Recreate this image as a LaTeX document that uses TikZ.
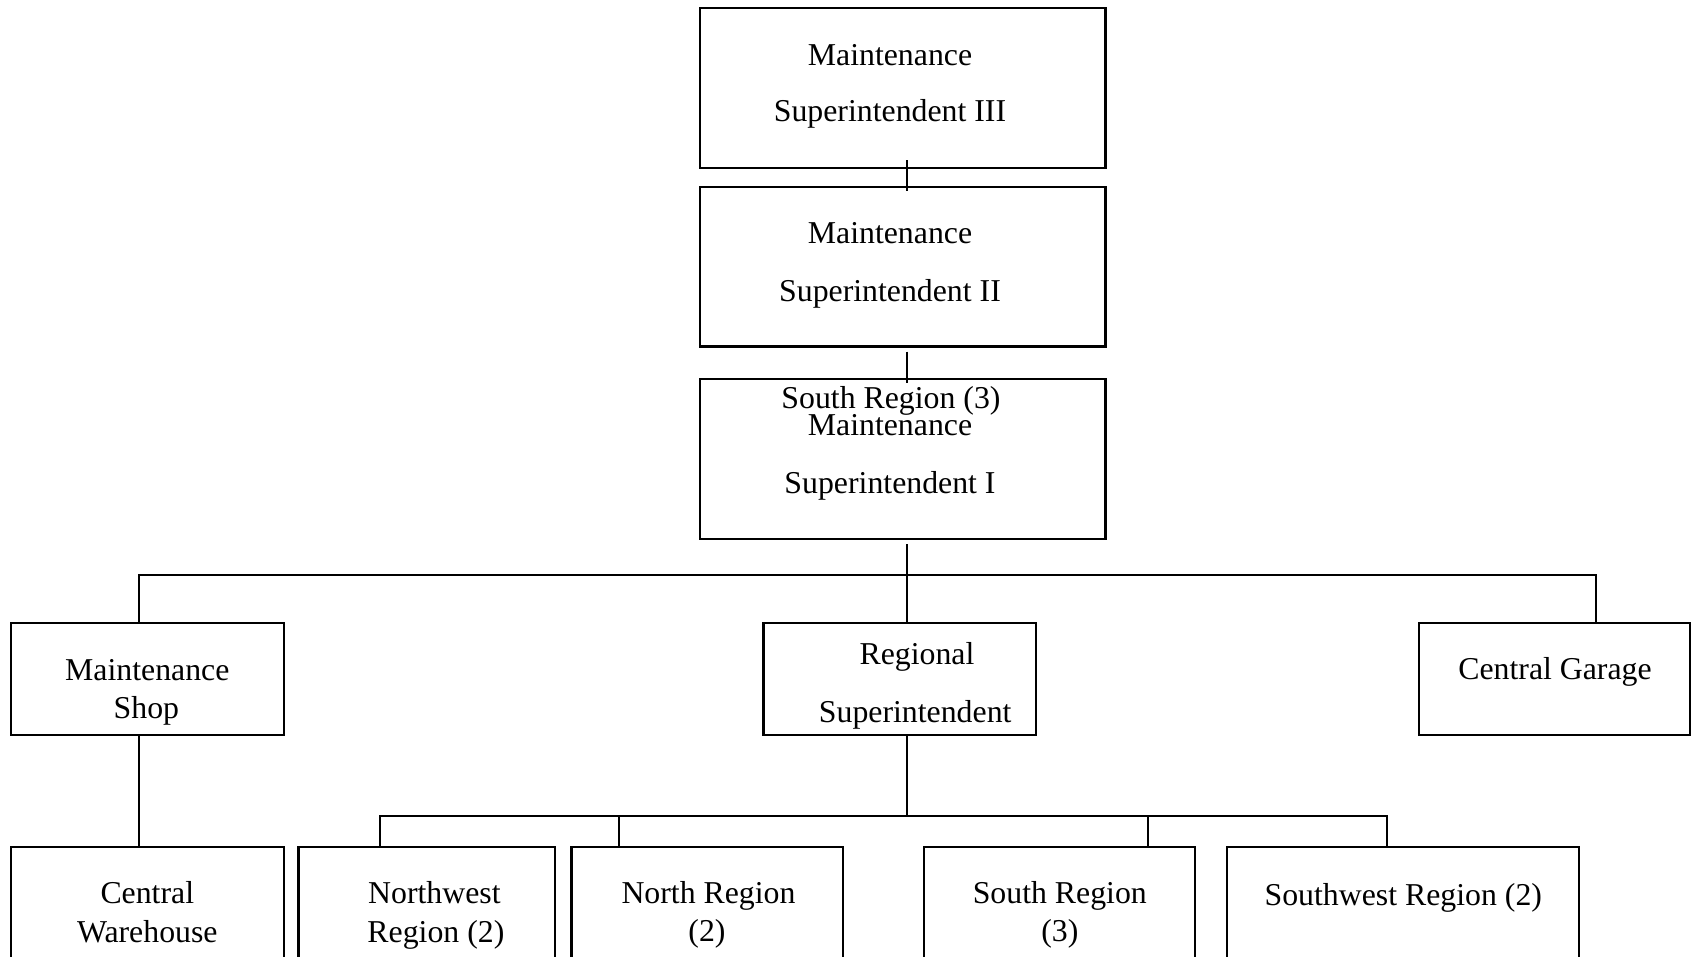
\documentclass[tikz,border=0pt]{standalone}
\usepackage{fontspec}
\setmainfont{Liberation Serif}
\usetikzlibrary{fit,calc}
\tikzset{
  box/.style={draw, line width=1.1pt, inner sep=0pt, rectangle},
  lbl/.style={anchor=base, inner sep=0pt, font=\fontsize{15.9pt}{19pt}\selectfont},
  link/.style={line width=1.1pt}
}
\begin{document}
\begin{tikzpicture}[x=0.5pt,y=-0.5pt]
\useasboundingbox (0,0) rectangle (1691,957);
\clip (0,0) rectangle (1691,957);

% boxes
\node[box, fit={(700,8)(1105.5,168)}] (b1) {};
\node[box, fit={(700,187)(1105.5,346.5)}] (b2) {};
\node[box, fit={(700,379)(1105.5,539)}] (b3) {};
\node[box, fit={(10.7,623.3)(284,735)}] (shop) {};
\node[box, fit={(763.4,623.3)(1035.7,735)}] (reg) {};
\node[box, fit={(1419,623.3)(1690,735)}] (garage) {};
\node[box, fit={(10.7,847.3)(284,1000)}] (ware) {};
\node[box, fit={(298.5,847.3)(555,1000)}] (nw) {};
\node[box, fit={(571.4,847.3)(843.3,1000)}] (north) {};
\node[box, fit={(924.1,847.3)(1195,1000)}] (south) {};
\node[box, fit={(1226.7,847.3)(1579.3,1000)}] (sw) {};

% labels
\node[lbl] (b1a) at (890,66) {Maintenance};
\node[lbl] (b1b) at (890,121.4) {Superintendent III};
\node[lbl] (b2a) at (890,244) {Maintenance};
\node[lbl] (b2b) at (890,301) {Superintendent II};
\node[lbl] (b3x) at (891,408) {South Region (3)};
\node[lbl] (b3a) at (890,435.7) {Maintenance};
\node[lbl] (b3b) at (890,493) {Superintendent I};
\node[lbl] (shopa) at (147.3,680) {Maintenance};
\node[lbl] (shopb) at (146.4,718.3) {Shop};
\node[lbl] (rega) at (917,664) {Regional};
\node[lbl] (regb) at (915.2,722.3) {Superintendent};
\node[lbl] (gara) at (1555,679.3) {Central Garage};
\node[lbl] (warea) at (147.3,903.3) {Central};
\node[lbl] (wareb) at (147.3,942.3) {Warehouse};
\node[lbl] (nwa) at (434.4,903.3) {Northwest};
\node[lbl] (nwb) at (435.9,942.3) {Region (2)};
\node[lbl] (northa) at (708.5,903.3) {North Region};
\node[lbl] (northb) at (707,941.7) {(2)};
\node[lbl] (southa) at (1059.8,903.3) {South Region};
\node[lbl] (southb) at (1059.8,941.7) {(3)};
\node[lbl] (swa) at (1403.3,905) {Southwest Region (2)};

% junction points
\coordinate (t1) at (139,575);
\coordinate (t2) at (907,575);
\coordinate (t3) at (1596,575);
\coordinate (j2) at (907,816);
\coordinate (u1) at (380,816);
\coordinate (u2) at (619,816);
\coordinate (u3) at (1148,816);
\coordinate (u4) at (1387,816);

% connectors
\draw[link] ($(t2 |- b1.south)+(0,-9)$) -- ($(t2 |- b2.north)+(0,5)$);
\draw[link] ($(t2 |- b2.south)+(0,4)$) -- ($(t2 |- b3.north)+(0,5)$);
\draw[link] ($(t2 |- b3.south)+(0,4)$) -- (t2);
\draw[link] (t1 |- shop.north) -- (t1) -- (t3) -- (t3 |- garage.north);
\draw[link] (t2) -- (t2 |- reg.north);
\draw[link] (t1 |- shop.south) -- (t1 |- ware.north);
\draw[link] (j2 |- reg.south) -- (j2);
\draw[link] (u1 |- nw.north) -- (u1) -- (u4) -- (u4 |- sw.north);
\draw[link] (u2) -- (u2 |- north.north);
\draw[link] (u3) -- (u3 |- south.north);
\end{tikzpicture}
\end{document}
